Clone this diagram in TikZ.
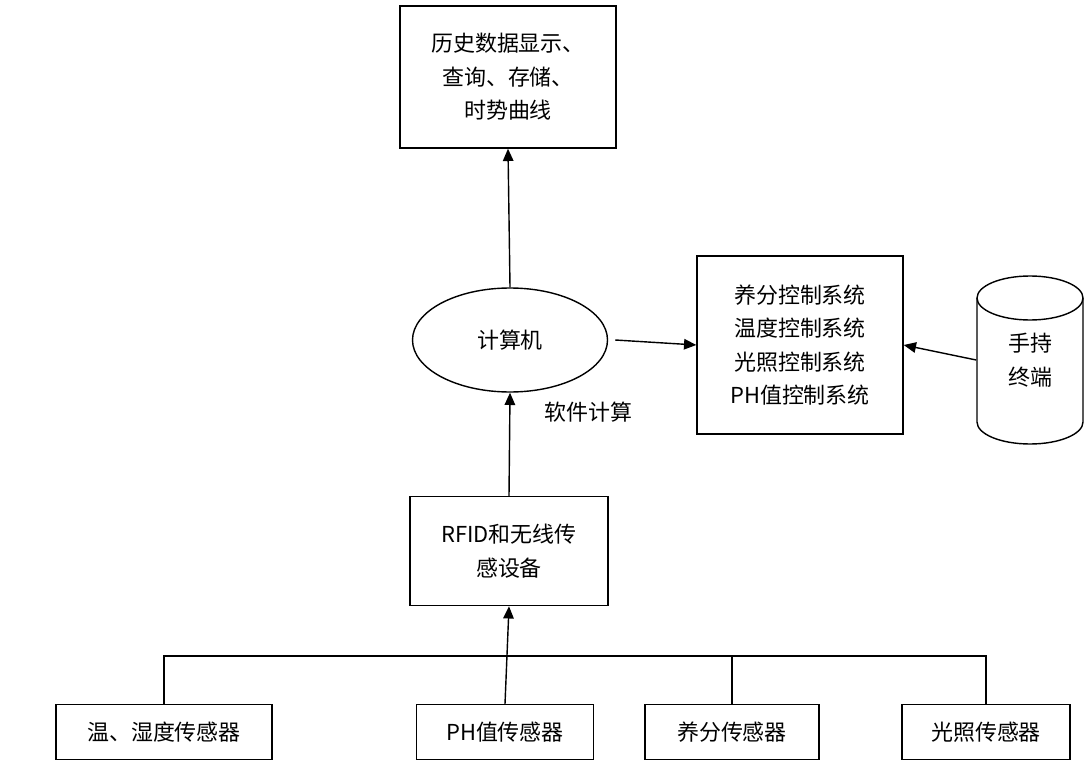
\documentclass[tikz,border=0pt]{standalone}
\usepackage{fontspec}
\setmainfont{Liberation Serif}
\newfontfamily\cjk{Noto Sans CJK SC}
\usetikzlibrary{shapes.geometric,arrows.meta}
\tikzset{
  box/.style={draw,thick,align=center,font=\cjk\fontsize{12.5}{19}\selectfont},
  link/.style={thick,-{Triangle[length=7pt,width=6pt]}}
}
\begin{document}
\begin{tikzpicture}[x=0.02cm,y=-0.02cm]
\useasboundingbox (0,0) rectangle (1087,773);
% upper part
\node[box,minimum width=216*0.02cm,minimum height=142*0.02cm] (hist) at (508,77) {历史数据显示、\\查询、存储、\\时势曲线};
\node[box,ellipse,minimum width=195*0.02cm,minimum height=104*0.02cm] (pc) at (510,340) {计算机};
\node[box,minimum width=206*0.02cm,minimum height=178*0.02cm] (ctrl) at (800,345) {养分控制系统\\温度控制系统\\光照控制系统\\PH值控制系统};
\node[box,minimum width=198*0.02cm,minimum height=109*0.02cm] (rfid) at (509,551) {RFID和无线传\\感设备};
% handheld terminal
\node[align=center,minimum width=107*0.02cm,minimum height=168*0.02cm,font=\cjk\fontsize{12.5}{19}\selectfont] (hand) at (1030,360) {手持\\终端};
\draw[thick] (977,298) -- (977,422) arc[start angle=180,end angle=360,x radius=53,y radius=-22] -- (1083,298);
\draw[thick] (1030,298) ellipse[x radius=53,y radius=22];
% sensors
\foreach \n/\x/\w/\t in {s1/164/216/温、湿度传感器,s2/505/177/PH值传感器,s3/732/174/养分传感器,s4/986/168/光照传感器}
  \node[box,minimum width=\w*0.02cm,minimum height=55*0.02cm] (\n) at (\x,732) {\t};
\coordinate (bus) at (505,656);
\draw[thick] (s1.north) |- (s4.north |- bus) -- (s4.north);
\draw[thick] (s3.north) -- (s3.north |- bus);
\draw[link] (s2.north) -- (rfid.south);
% arrows
\draw[link] (rfid.north) -- node[right,xshift=16pt,yshift=-2pt,font=\cjk\fontsize{12.5}{15}\selectfont,pos=0.85] {软件计算} (pc.south);
\draw[link] (pc.north) -- (hist.south);
\draw[link] ([xshift=4pt]pc.east) -- (ctrl.west);
\draw[link] (hand.west) -- (ctrl.east);
\end{tikzpicture}
\end{document}
